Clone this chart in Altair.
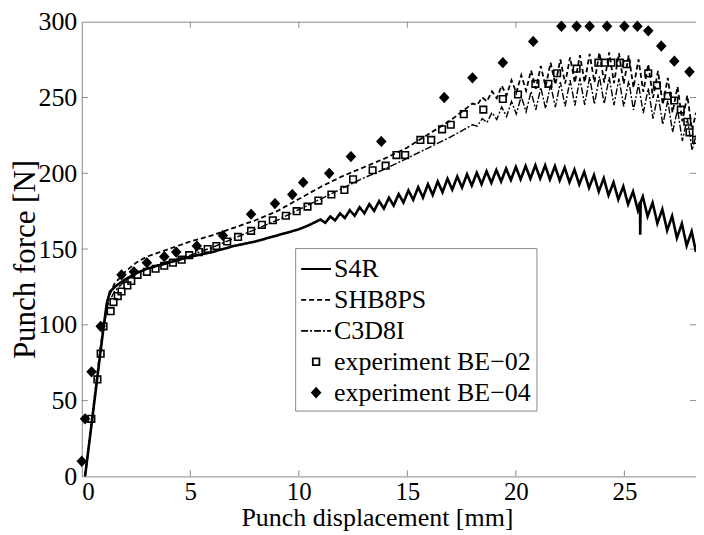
import altair as alt
import pandas as pd

W, H = 616, 456
FONT = "Liberation Serif"
GRAY = "#8a8a8a"

SERIES = ["S4R", "SHB8PS", "C3D8I", "experiment BE\u221202", "experiment BE\u221204"]
X_TICKS = [0, 5, 10, 15, 20, 25]
Y_TICKS = [0, 50, 100, 150, 200, 250, 300]

s4r_x = [0.15, 0.5, 0.8, 1.0, 1.15, 1.3, 1.6, 2.0, 2.5, 3.0, 4.0, 5.0, 6.0, 7.0, 8.0, 9.0, 10.0, 10.5,
         11.0, 11.22, 11.45, 11.67, 11.9, 12.12, 12.35, 12.57, 12.8, 13.02, 13.25, 13.47, 13.7, 13.92,
         14.15, 14.37, 14.6, 14.82, 15.05, 15.27, 15.5, 15.72, 15.95, 16.17, 16.4, 16.62, 16.85, 17.07,
         17.3, 17.52, 17.75, 17.97, 18.2, 18.42, 18.65, 18.87, 19.1, 19.32, 19.55, 19.77, 20.0, 20.22,
         20.45, 20.67, 20.9, 21.12, 21.35, 21.57, 21.8, 22.02, 22.25, 22.47, 22.7, 22.92, 23.15, 23.37,
         23.6, 23.82, 24.05, 24.27, 24.5, 24.72, 24.95, 25.17, 25.4, 25.62, 25.72, 25.73, 25.75,
         25.85, 26.07, 26.3, 26.52, 26.75, 26.97, 27.2, 27.42, 27.65, 27.87, 28.1, 28.3]
s4r_y = [0, 40, 75, 98, 114, 122, 126, 130, 134, 137, 141, 145, 148, 152, 155, 159, 163, 166,
         169.5, 167.3, 171.5, 168.9, 173.5, 170.5, 175.6, 172, 177.6, 173.6, 179.6, 175.2, 181.7, 176.7,
         183.9, 178.7, 186.3, 180.7, 188.7, 182.5, 190.8, 184, 192.8, 185.7, 194.6, 187.5, 196.4, 189.2,
         197.9, 190.6, 199.3, 191.9, 200.4, 192.8, 201.3, 193.7, 202.2, 194.6, 203.1, 195.5, 204.2, 196,
         204.8, 196.4, 205.3, 196.5, 205.2, 195.9, 204.7, 195.3, 203.8, 194.1, 202.4, 192.7, 200.9, 190.4,
         198.8, 187.9, 196.7, 185.4, 194, 182.7, 191.3, 179.5, 188, 175.7, 181, 159.5, 181,
         184.6, 171.6, 180.6, 167, 176.3, 162.3, 171.8, 157.3, 166.8, 152.2, 161.7, 148]

teeth_x = [18.0, 18.22, 18.45, 18.67, 18.9, 19.12, 19.35, 19.57, 19.8, 20.02, 20.25, 20.47, 20.7, 20.92,
           21.15, 21.37, 21.6, 21.82, 22.05, 22.27, 22.5, 22.72, 22.95, 23.17, 23.4, 23.62, 23.85, 24.07,
           24.3, 24.52, 24.75, 24.97, 25.2, 25.42, 25.65, 25.87, 26.1, 26.32, 26.55, 26.77, 27.0, 27.22,
           27.45, 27.67, 27.9, 28.12, 28.3]

shb_x = [0.15, 0.5, 0.8, 1.0, 1.2, 1.5, 2.0, 2.5, 3.0, 4.0, 5.0, 6.0, 7.0, 8.0, 9.0, 10.0, 11.0, 12.0,
         13.0, 14.0, 15.0, 16.0, 17.0] + teeth_x
shb_y = [0, 42, 78, 100, 117, 127, 135, 141, 145, 150, 155, 159, 164, 169, 175, 183, 191, 198,
         204, 210, 217, 226, 235,
         246, 245.1, 250.1, 247.4, 254.1, 249.5, 257.8, 251.3, 261.4, 253.1, 264.8, 254.5, 267.9, 255.8,
         270.8, 257.1, 273, 258.5, 275.1, 259.2, 276.5, 259.7, 277.9, 260, 278.8, 260, 279.7, 259.9,
         279.7, 259.5, 279.3, 259, 277.8, 256.5, 275.1, 253.8, 272, 249.8, 267.5, 245.3, 263, 240.1,
         257.2, 234.3, 251.3, 228.4, 240]

c3d_x = [0.15, 0.5, 0.8, 1.0, 1.2, 1.5, 2.0, 2.5, 3.0, 4.0, 5.0, 6.0, 7.0, 8.0, 9.0, 10.0, 11.0, 12.0,
         13.0, 14.0, 15.0, 16.0, 17.0] + teeth_x
c3d_y = [0, 40, 75, 97, 113, 122, 129, 134, 137, 142, 146, 151, 157, 163, 169, 176, 183, 190,
         197, 203, 210, 217, 224,
         232, 231.1, 236.1, 233.4, 240.1, 235.5, 243.8, 237.3, 247.4, 239.1, 250.8, 240.5, 253.9, 241.8,
         256.6, 242.7, 258.4, 243.7, 260.1, 244.2, 261.5, 244.7, 262.9, 245.2, 263.4, 245.6, 263.9, 245.9,
         263.4, 245, 262.5, 244.1, 261, 241.9, 258.8, 239.7, 256.1, 236.1, 252, 232.1, 248, 227.1,
         242.2, 221.3, 236.3, 215.2, 225]

be02_x = [0.44, 0.72, 0.87, 1.0, 1.33, 1.46, 1.66, 1.83, 2.1, 2.28, 2.57, 3.0, 3.4, 3.8, 4.2, 4.6, 4.95,
          5.4, 5.8, 6.2, 6.7, 7.2, 7.8, 8.3, 8.8, 9.4, 9.9, 10.4, 10.9, 11.5, 12.1, 12.5, 13.4, 14.0,
          14.5, 14.9, 15.6, 16.1, 16.6, 17.0, 17.6, 18.5, 19.4, 20.1, 20.9, 21.5, 21.9, 22.8, 23.8, 24.1,
          24.4, 24.8, 25.1, 26.1, 26.5, 27.0, 27.3, 27.6, 27.9, 28.0, 28.3]
be02_y = [38, 64, 81, 99, 109, 115, 119, 122, 126, 129, 133, 135, 137, 139, 141, 143, 146,
          148, 150, 152, 155, 158, 162, 166, 169, 172, 175, 178, 182, 186, 189, 196, 202, 205,
          212, 212, 222, 222, 229, 232, 239, 242, 249, 252, 259, 259, 266, 269, 273, 273,
          273, 273, 272, 266, 258, 251, 248, 242, 234, 227, 222]

be04_x = [0.0, 0.15, 0.45, 0.87, 1.83, 2.4, 3.0, 3.8, 4.35, 5.3, 6.5, 7.8, 8.9, 9.7, 10.2, 11.4, 12.4,
          13.8, 16.7, 18.0, 19.4, 20.8, 22.1, 22.8, 23.4, 24.2, 25.0, 25.6, 26.1, 26.7, 27.3, 28.0]
be04_y = [10, 38, 69, 99, 133, 135, 141, 145, 148, 152, 159, 173, 180, 186, 194, 200, 211,
          221, 250, 263, 273, 287, 297, 297, 297, 297, 297, 297, 294, 284, 274, 267]


def frame(name, xs, ys):
    return pd.DataFrame({"series": name, "x": xs, "y": ys, "i": list(range(len(xs)))})


xscale = alt.Scale(domain=[0, 28.3], nice=False, zero=False)
yscale = alt.Scale(domain=[0, 300], nice=False)

LINE = "M-1,0H1"
SQUARE = "M-0.22,-0.22H0.22V0.22H-0.22Z"
DIAMOND = "M0,-0.3L0.28,0L0,0.3L-0.28,0Z"

dash_scale = alt.Scale(domain=SERIES, range=[[1, 0], [5, 3], [7, 2, 2, 2], [1, 0], [1, 0]])
shape_scale = alt.Scale(domain=SERIES, range=[LINE, LINE, LINE, SQUARE, DIAMOND])
fill_scale = alt.Scale(domain=SERIES, range=["transparent", "transparent", "transparent", "transparent", "black"])
stroke_scale = alt.Scale(domain=SERIES, range=["black", "black", "black", "black", "black"])

legend = alt.Legend(
    title=None, orient="none", legendX=214, legendY=227,
    labelFont=FONT, labelFontSize=26, labelColor="black", labelOffset=2, labelLimit=400,
    labelExpr="datum.label + '\u00a0\u00a0\u00a0'",
    strokeColor=GRAY, fillColor="white", padding=5, rowPadding=2,
    symbolSize=900, symbolStrokeWidth=1.8, symbolStrokeColor="black", symbolOpacity=1,
)

xaxis = alt.Axis(
    values=X_TICKS, format="d", ticks=False, domain=False, grid=False,
    labelFont=FONT, labelFontSize=25, labelColor="black", labelPadding=3,
    title="Punch displacement [mm]", titleFont=FONT, titleFontSize=26,
    titleFontWeight="normal", titleColor="black", titlePadding=0, titleX=296,
)
yaxis = alt.Axis(
    values=Y_TICKS, format="d", ticks=False, domain=False, grid=False,
    labelFont=FONT, labelFontSize=26, labelColor="black", labelPadding=5,
    title="Punch force [N]", titleFont=FONT, titleFontSize=31,
    titleFontWeight="normal", titleColor="black", titleX=-40, titleY=238,
)

X = alt.X("x:Q", scale=xscale, axis=xaxis)
Y = alt.Y("y:Q", scale=yscale, axis=yaxis)
STROKE = alt.Stroke("series:N", scale=stroke_scale, legend=legend)

xt = pd.DataFrame({"x": X_TICKS[1:]})
yt = pd.DataFrame({"y": Y_TICKS[1:-1]})
tick_bottom = alt.Chart(xt).mark_rule(color=GRAY).encode(x=X, y=alt.value(H), y2=alt.value(H - 6))
tick_top = alt.Chart(xt).mark_rule(color=GRAY).encode(x=X, y=alt.value(0), y2=alt.value(6))
tick_left = alt.Chart(yt).mark_rule(color=GRAY).encode(y=Y, x=alt.value(0), x2=alt.value(6))
tick_right = alt.Chart(yt).mark_rule(color=GRAY).encode(y=Y, x=alt.value(W), x2=alt.value(W - 6))


def line_layer(name, xs, ys, width):
    return alt.Chart(frame(name, xs, ys)).mark_line(strokeWidth=width, clip=True).encode(
        x=X, y=Y,
        stroke=STROKE,
        strokeDash=alt.StrokeDash("series:N", scale=dash_scale, legend=legend),
        order="i:Q",
    )


pts_df = pd.concat([frame(SERIES[3], be02_x, be02_y), frame(SERIES[4], be04_x, be04_y)])
points = alt.Chart(pts_df).mark_point(
    filled=False, strokeWidth=1.6, size=900, opacity=1, clip=False
).encode(
    x=X, y=Y,
    stroke=STROKE,
    shape=alt.Shape("series:N", scale=shape_scale, legend=legend),
    fill=alt.Fill("series:N", scale=fill_scale, legend=legend),
)

chart = alt.layer(
    tick_bottom, tick_top, tick_left, tick_right,
    line_layer(SERIES[2], c3d_x, c3d_y, 1.4),
    line_layer(SERIES[1], shb_x, shb_y, 1.8),
    line_layer(SERIES[0], s4r_x, s4r_y, 2.6),
    points,
).properties(
    width=W, height=H,
    autosize=alt.AutoSizeParams(type="none"),
    padding={"left": 74, "top": 13, "right": 0, "bottom": 57},
).configure(font=FONT).configure_view(stroke=GRAY, strokeWidth=1)

chart.save("out.html", embed_options={"renderer": "svg", "actions": False})
